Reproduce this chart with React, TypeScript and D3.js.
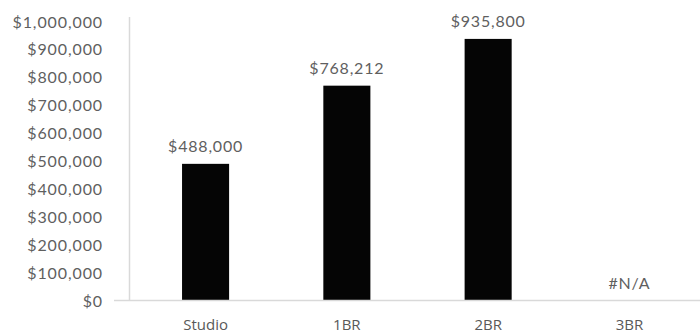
import React from "react";
import * as d3 from "d3";

const categories = ["Studio", "1BR", "2BR", "3BR"];
const values: (number | null)[] = [488000, 768212, 935800, null];
const yTicks = [0, 100000, 200000, 300000, 400000, 500000, 600000, 700000, 800000, 900000, 1000000];

const W = 700;
const H = 333;

export default function App() {
  const x = d3.scaleBand<string>().domain(categories).range([135, 700]).paddingInner(0.667).paddingOuter(0.333);
  const y = d3.scaleLinear().domain([0, 1000000]).range([300, 21]);
  const fmt = (v: number) => "$" + d3.format(",")(v);
  const font = "Lato, 'Open Sans', sans-serif";

  return (
    <div style={{ position: "absolute", left: 0, top: 0 }}>
      <svg width={W} height={H} style={{ display: "block", background: "#fff" }}>
        <line x1={129.5} x2={129.5} y1={17} y2={300} stroke="#d9d9d9" strokeWidth={1.5} />
        {yTicks.map((t) => (
          <text
            key={t}
            x={103}
            y={y(t)}
            textAnchor="end"
            dominantBaseline="central"
            fontFamily={font}
            fontSize={16}
            letterSpacing={0.9}
            fill="#5f5f5f"
          >
            {fmt(t)}
          </text>
        ))}
        {categories.map((c, i) => {
          const v = values[i];
          const cx = (x(c) as number) + x.bandwidth() / 2;
          return (
            <g key={c}>
              {v !== null && (
                <rect x={x(c)} y={y(v)} width={x.bandwidth()} height={y(0) - y(v)} fill="#050505" />
              )}
              <text
                x={cx}
                y={(v !== null ? y(v) : y(0)) - 18}
                textAnchor="middle"
                dominantBaseline="central"
                fontFamily={font}
                fontSize={16}
                letterSpacing={0.8}
                fill="#5f5f5f"
              >
                {v !== null ? fmt(v) : "#N/A"}
              </text>
              <text
                x={cx}
                y={324}
                textAnchor="middle"
                dominantBaseline="central"
                fontFamily="'Open Sans', sans-serif"
                fontSize={15}
                fill="#595959"
              >
                {c}
              </text>
            </g>
          );
        })}
        <line x1={114} x2={700} y1={300.5} y2={300.5} stroke="#d9d9d9" strokeWidth={1.5} />
      </svg>
    </div>
  );
}
